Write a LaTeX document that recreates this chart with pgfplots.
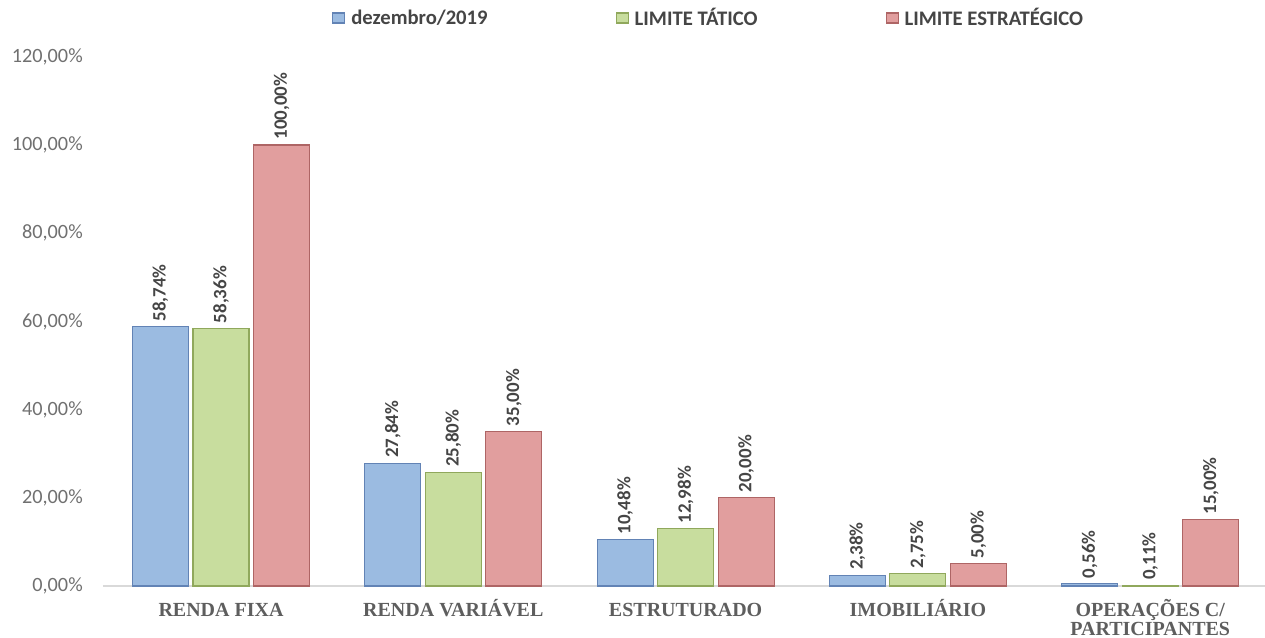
\documentclass[border=0pt]{standalone}
\usepackage{pgfplots}
\pgfplotsset{compat=1.18}
\usepackage{fontspec}
\setmainfont{Carlito}
\newfontfamily\catfont{Liberation Serif}
\definecolor{cblue}{HTML}{9BBBE1}
\definecolor{cbluee}{HTML}{6283B5}
\definecolor{cgreen}{HTML}{C8DD9E}
\definecolor{cgreene}{HTML}{90A85C}
\definecolor{cred}{HTML}{E19E9E}
\definecolor{crede}{HTML}{AE6565}
\definecolor{ticktext}{HTML}{707070}
\definecolor{labtext}{HTML}{454545}
\definecolor{cattext}{HTML}{5E5E5E}
\pgfplotsset{sqlegend/.style={legend image code/.code={\draw[##1] (0pt,-3.75pt) rectangle (9pt,3.75pt);}}}
\begin{document}
\begin{tikzpicture}
\begin{axis}[
  scale only axis, width=871.5pt, height=396.9pt,
  xmin=-0.508, xmax=4.494, ymin=0, ymax=120,
  ybar=3.4pt, bar width=42pt,
  axis line style={draw=none},
  tick style={draw=none},
  clip=false,
  ytick={0,20,40,60,80,100,120},
  xtick={0,1,2,3,4},
  xticklabels={RENDA FIXA, RENDA VARIÁVEL, ESTRUTURADO, IMOBILIÁRIO, {\begin{tabular}[t]{@{}c@{}}OPERAÇÕES C/\\[-0.8pt]PARTICIPANTES\end{tabular}}},
  xticklabel style={font=\catfont\bfseries\fontsize{15}{15}\selectfont, text=cattext, anchor=north, inner sep=0pt, text height=9.9pt, yshift=-8.25pt},
  /pgf/number format/assume math mode=true,
  yticklabel={\pgfmathprintnumber[fixed,fixed zerofill,precision=2,use comma]{\tick}\%},
  yticklabel style={font=\fontsize{15.2}{18}\selectfont, text=ticktext, anchor=east, inner sep=0pt, xshift=-15pt},
  extra y ticks={0}, extra y tick labels={},
  extra y tick style={grid=major, major grid style={draw=black!15, line width=0.9pt}},
  nodes near coords={\pgfmathprintnumber[fixed,fixed zerofill,precision=2,use comma]{\pgfplotspointmeta}\%},
  every node near coord/.append style={rotate=90, anchor=west, font=\bfseries\fontsize{14.2}{16}\selectfont, text=labtext, inner sep=3.75pt},
  legend style={at={(rel axis cs:0.197,1.0733)}, anchor=west, draw=none, fill=none, inner sep=0pt,
    font=\bfseries\fontsize{15.5}{18}\selectfont, text=labtext,
    /tikz/every odd column/.append style={column sep=4.5pt},
    /tikz/every even column/.append style={column sep=96pt},
    nodes={inner sep=0pt}},
  legend columns=3,
]
\addplot[fill=cblue, draw=cbluee, line width=0.8pt, sqlegend] coordinates {(0,58.74) (1,27.84) (2,10.48) (3,2.38) (4,0.56)};
\addplot[fill=cgreen, draw=cgreene, line width=0.8pt, sqlegend] coordinates {(0,58.36) (1,25.80) (2,12.98) (3,2.75) (4,0.11)};
\addplot[fill=cred, draw=crede, line width=0.8pt, sqlegend] coordinates {(0,100) (1,35) (2,20) (3,5) (4,15)};
\legend{dezembro/2019, LIMITE TÁTICO, LIMITE ESTRATÉGICO}
\end{axis}
\pgfresetboundingbox
\path (-77.25pt,-38.25pt) rectangle (871.5pt,439.5pt);
\end{tikzpicture}
\end{document}
